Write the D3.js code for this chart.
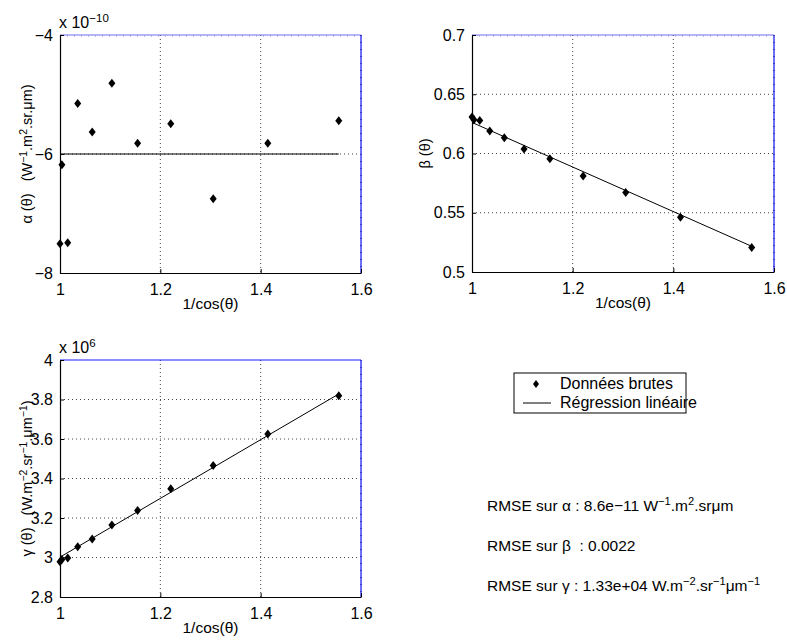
<!DOCTYPE html>
<html>
<head>
<meta charset="utf-8">
<script src="https://cdn.jsdelivr.net/npm/d3@7"></script>
<style>
  body { margin: 0; background: #fff; }
  svg { display: block; font-family: "Liberation Sans", Arial, sans-serif; }
  svg text { white-space: pre; }
</style>
</head>
<body>
<div id="chart"></div>
<script>
// x = 1/cos(theta), theta = 0..50 deg
var invCos = [1.0000, 1.0038, 1.0154, 1.0353, 1.0642, 1.1034, 1.1547, 1.2208, 1.3054, 1.4142, 1.5557];

// raw data (alpha in 1e-10, gamma in 1e6)
var alphaVals = [-7.51, -6.18, -7.49, -5.15, -5.63, -4.81, -5.82, -5.49, -6.75, -5.82, -5.44];
var betaVals  = [0.6307, 0.6285, 0.6279, 0.6189, 0.6132, 0.6039, 0.5955, 0.5811, 0.5670, 0.5462, 0.5206];
var gammaVals = [2.978, 2.990, 2.998, 3.054, 3.094, 3.165, 3.238, 3.348, 3.466, 3.625, 3.819];

// regression lines, value at first and last x
var fitX      = [1.0, 1.5557];
var alphaFit  = [-6.00, -6.00];
var betaFit   = [0.6262, 0.5217];
var gammaFit  = [3.002, 3.828];

var xTicks     = [1, 1.2, 1.4, 1.6];
var alphaTicks = [-8, -6, -4];
var betaTicks  = [0.5, 0.55, 0.6, 0.65, 0.7];
var gammaTicks = [2.8, 3, 3.2, 3.4, 3.6, 3.8, 4];

var legendLabels = ["Données brutes", "Régression linéaire"];

var W = 787, H = 641;
var svg = d3.select("#chart").append("svg")
    .attr("width", W).attr("height", H);

// write text made of [string, isSuperscript] pieces
function rich(sel, parts, size) {
    var up = false;
    parts.forEach(function (p) {
        var t = sel.append("tspan").text(p[0]);
        if (p[1] && !up) { t.attr("dy", -size * 0.38).attr("font-size", size * 0.72); up = true; }
        else if (p[1]) { t.attr("font-size", size * 0.72); }
        else if (!p[1] && up) { t.attr("dy", size * 0.38); up = false; }
    });
}

function fmt(d) {
    var s = String(+d.toFixed(3));
    return s.replace("-", "\u2212");
}

var panels = [
    {box: {l: 60, r: 361, t: 35, b: 273}, y: alphaVals, fit: alphaFit, domain: [-8, -4], ticks: alphaTicks,
     topSolid: false, labelX: 32,
     ylabel: [["α (θ)   (W", 0], ["−1", 1], [".m", 0], ["2", 1], [".sr.μm)", 0]],
     expo: ["x 10", "−10"]},
    {box: {l: 472, r: 774, t: 35, b: 272}, y: betaVals, fit: betaFit, domain: [0.5, 0.7], ticks: betaTicks,
     topSolid: false, labelX: 430,
     ylabel: [["β (θ)", 0]], expo: null},
    {box: {l: 60, r: 361, t: 360, b: 597}, y: gammaVals, fit: gammaFit, domain: [2.8, 4], ticks: gammaTicks,
     topSolid: true, labelX: 32,
     ylabel: [["γ (θ)   (W.m", 0], ["−2", 1], [".sr", 0], ["−1", 1], [".μm", 0], ["−1", 1], [")", 0]],
     expo: ["x 10", "6"]}
];

var fs = 16;

panels.forEach(function (p) {
    var b = p.box;
    var x = d3.scaleLinear().domain([1, 1.6]).range([b.l, b.r]);
    var y = d3.scaleLinear().domain(p.domain).range([b.b, b.t]);
    var g = svg.append("g");

    // dotted grid
    xTicks.slice(1, -1).forEach(function (t) {
        g.append("line").attr("x1", x(t)).attr("x2", x(t)).attr("y1", b.t).attr("y2", b.b)
            .attr("stroke", "#444").attr("stroke-dasharray", "1,3");
    });
    p.ticks.slice(1, -1).forEach(function (t) {
        g.append("line").attr("x1", b.l).attr("x2", b.r).attr("y1", y(t)).attr("y2", y(t))
            .attr("stroke", "#444").attr("stroke-dasharray", "1,3");
    });

    // top and right edges in blue
    g.append("line").attr("x1", b.l).attr("x2", b.r).attr("y1", b.t).attr("y2", b.t)
        .attr("stroke", p.topSolid ? "#1a1aff" : "#6a6aee").attr("stroke-width", 1.2);
    if (!p.topSolid) {
        g.append("line").attr("x1", b.l).attr("x2", b.r).attr("y1", b.t + 1).attr("y2", b.t + 1)
            .attr("stroke", "#8888cc").attr("stroke-dasharray", "1,6");
    }
    g.append("line").attr("x1", b.r).attr("x2", b.r).attr("y1", b.t).attr("y2", b.b)
        .attr("stroke", "#6f6ff5").attr("stroke-width", 2);
    g.append("line").attr("x1", b.r).attr("x2", b.r).attr("y1", b.t).attr("y2", b.b)
        .attr("stroke", "#3a3ad0").attr("stroke-width", 2).attr("stroke-dasharray", "1,6");

    // left and bottom axes, ticks inside
    var xAxis = d3.axisBottom(x).tickValues(xTicks).tickSizeInner(-4).tickSizeOuter(0)
        .tickPadding(8).tickFormat(fmt);
    var yAxis = d3.axisLeft(y).tickValues(p.ticks).tickSizeInner(-4).tickSizeOuter(0)
        .tickPadding(7).tickFormat(fmt);
    var gx = g.append("g").attr("transform", "translate(0," + b.b + ")").call(xAxis);
    var gy = g.append("g").attr("transform", "translate(" + b.l + ",0)").call(yAxis);
    [gx, gy].forEach(function (a) {
        a.select(".domain").attr("stroke", "#000").attr("stroke-width", 1.2);
        a.selectAll(".tick line").attr("stroke", "#000");
        a.selectAll(".tick text").attr("font-size", fs).attr("fill", "#000")
            .attr("font-family", "Liberation Sans, Arial, sans-serif");
    });
    gx.selectAll(".tick text").attr("dy", "0.85em");

    // regression line
    g.append("path")
        .attr("d", d3.line().x(function (d) { return x(d[0]); }).y(function (d) { return y(d[1]); })(
            fitX.map(function (v, i) { return [v, p.fit[i]]; })))
        .attr("stroke", "#000").attr("fill", "none").attr("stroke-width", 1);

    // raw points as diamonds
    g.selectAll(".pt").data(invCos).enter().append("path")
        .attr("d", function (d, i) {
            var cx = x(d), cy = y(p.y[i]);
            return "M" + cx + "," + (cy - 4.5) + "L" + (cx + 3.5) + "," + cy + "L" + cx + "," + (cy + 4.5) +
                "L" + (cx - 3.5) + "," + cy + "Z";
        })
        .attr("fill", "#000");

    // x label
    g.append("text").attr("x", (b.l + b.r) / 2).attr("y", b.b + 36)
        .attr("text-anchor", "middle").attr("font-size", 15.5).text("1/cos(θ)");

    // y label
    var yl = g.append("text")
        .attr("transform", "translate(" + p.labelX + "," + ((b.t + b.b) / 2) + ") rotate(-90)")
        .attr("text-anchor", "middle").attr("font-size", 14.5);
    rich(yl, p.ylabel, 14.5);

    // exponent
    if (p.expo) {
        var ex = g.append("text").attr("x", b.l - 1).attr("y", b.t - 7).attr("font-size", fs);
        rich(ex, [[p.expo[0], 0], [p.expo[1], 1]], fs);
    }
});

// legend
var lg = svg.append("g");
lg.append("rect").attr("x", 514).attr("y", 373).attr("width", 172).attr("height", 40)
    .attr("fill", "#fff").attr("stroke", "#000");
lg.append("path").attr("d", "M536,380L539,384L536,388L533,384Z").attr("fill", "#000");
lg.append("line").attr("x1", 523).attr("x2", 551).attr("y1", 403).attr("y2", 403).attr("stroke", "#000");
lg.append("text").attr("x", 560).attr("y", 389).attr("font-size", fs).text(legendLabels[0]);
lg.append("text").attr("x", 560).attr("y", 408).attr("font-size", fs).text(legendLabels[1]);

// RMSE notes
var notes = [
    [["RMSE sur α : 8.6e−11 W", 0], ["−1", 1], [".m", 0], ["2", 1], [".srμm", 0]],
    [["RMSE sur β  : 0.0022", 0]],
    [["RMSE sur γ : 1.33e+04 W.m", 0], ["−2", 1], [".sr", 0], ["−1", 1], ["μm", 0], ["−1", 1]]
];
notes.forEach(function (n, i) {
    var t = svg.append("text").attr("x", 487).attr("y", 511 + i * 40).attr("font-size", 15.5);
    rich(t, n, 15.5);
});
</script>
</body>
</html>
